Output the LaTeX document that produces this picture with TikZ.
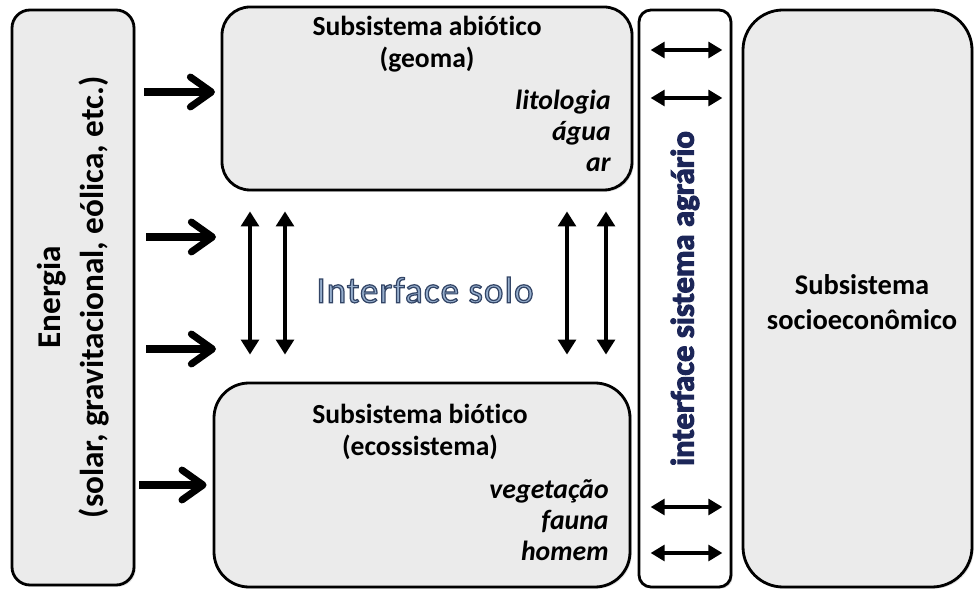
\documentclass[tikz,border=0pt]{standalone}
\usepackage{fontspec}
\setmainfont{Carlito}[Ligatures=NoCommon]
\newfontfamily\glowfont[LetterSpace=3,Ligatures=NoCommon]{Carlito}
\usetikzlibrary{arrows.meta,fit,shadows}

\definecolor{navytext}{RGB}{28,38,88}
\definecolor{soloblue}{RGB}{150,174,204}
\pgfdeclareverticalshading{boxshade}{100bp}{color(0bp)=(black!26); color(16bp)=(black!8); color(100bp)=(black!8)}
\newcommand{\outlined}[1]{\special{pdf:literal direct 2 Tr 0.7 w 0.2 0.27 0.4 RG}#1\special{pdf:literal direct 0 Tr}}
\newcommand{\heavytext}[1]{\special{pdf:literal direct 2 Tr 0.6 w 0.11 0.15 0.345 RG}#1\special{pdf:literal direct 0 Tr}}

\tikzset{
  sysbox/.style={draw, line width=1.6pt, shade, shading=boxshade, inner sep=0pt,
    drop shadow={opacity=0.25, shadow xshift=1pt, shadow yshift=-1pt}},
  whitebox/.style={draw, line width=1.6pt, fill=white, inner sep=0pt, rounded corners=0.24cm,
    drop shadow={opacity=0.25, shadow xshift=1pt, shadow yshift=-1pt}},
  titletext/.style={align=center, font=\bfseries\fontsize{15.7}{18.2}\selectfont},
  itemtext/.style={align=right, anchor=east, inner sep=0pt, font=\bfseries\itshape\fontsize{15.8}{17.6}\selectfont},
  energyarrow/.style={line width=4pt, -{Straight Barb[length=12pt,width=17pt,round]}},
  vlink/.style={line width=2.3pt, {Triangle[length=8.5pt,width=10pt]}-{Triangle[length=8.5pt,width=10pt]}},
  hlink/.style={line width=2.3pt, {Triangle[length=8pt,width=9pt]}-{Triangle[length=8pt,width=9pt]}}
}

\begin{document}
\begin{tikzpicture}[x=0.02cm, y=-0.02cm]
  \useasboundingbox (0,0) rectangle (974,590);

  \node [sysbox, rounded corners=0.36cm, fit={(12,10) (134,585)}] (energia) {};
  \node [sysbox, rounded corners=0.56cm, fit={(222,7) (632,190)}] (abio) {};
  \node [sysbox, rounded corners=0.7cm, fit={(214,383) (630,587)}] (bio) {};
  \node [whitebox, fit={(639,10) (731,587)}] (agr) {};
  \node [sysbox, rounded corners=0.8cm, fit={(743,10) (972,587)}] (socio) {};

  \node [rotate=90, align=center, font=\bfseries\fontsize{18.9}{24.5}\selectfont] (energiatext) at (energia.center) {Energia\\(solar, gravitacional, eólica, etc.)};
  \node [titletext] (abiotitle) at (427,44) {Subsistema abiótico\\(geoma)};
  \node [itemtext] (abioitems) at (611,131) {litologia\\água\\ar};
  \node [titletext] (biotitle) at (420,432) {Subsistema biótico\\(ecossistema)};
  \node [itemtext] (bioitems) at (609,520) {vegetação\\fauna\\homem};
  \node [text=soloblue, font=\glowfont\fontsize{21}{24}\selectfont] (solo) at (425,290) {\outlined{Interface solo}};
  \node [rotate=90, text=navytext, font=\bfseries\fontsize{18.6}{22}\selectfont] (agrtext) at (agr.center) {\heavytext{interface sistema agrário}};
  \node [align=center, font=\bfseries\fontsize{16.2}{20}\selectfont] (sociotext) at (862,302) {Subsistema\\socioeconômico};

  \coordinate (tip1) at (215,92);
  \coordinate (tip2) at (216,237);
  \coordinate (tip3) at (216,349);
  \draw [energyarrow] (energia.east |- tip1) ++(9,0) -- (tip1);
  \draw [energyarrow] (energia.east |- tip2) ++(11,0) -- (tip2);
  \draw [energyarrow] (energia.east |- tip3) ++(11,0) -- (tip3);
  \draw [energyarrow] (energia.east |- bio.west) ++(4,0) -- ([xshift=-0.12cm]bio.west);

  \foreach \x in {250,285,567,606}
    \draw [vlink] ([yshift=-0.4cm]abio.south -| \x,0) -- ([yshift=0.54cm]bio.north -| \x,0);

  \foreach \y in {50,98,507,553}
    \draw [hlink] ([xshift=0.26cm]agr.west |- 0,\y) -- ([xshift=-0.2cm]agr.east |- 0,\y);
\end{tikzpicture}
\end{document}
